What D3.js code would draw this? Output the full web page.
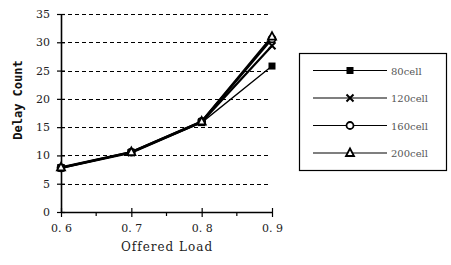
<!DOCTYPE html>
<html><head><meta charset="utf-8">
<script src="https://cdn.jsdelivr.net/npm/d3@7/dist/d3.min.js"></script>
<style>
body{margin:0;background:#fff}svg{display:block}
text.serif{font-family:"DejaVu Serif",serif !important}
text.mono{font-family:"DejaVu Sans Mono",monospace !important;font-weight:bold}
</style>
</head><body>
<svg id="c" width="451" height="265"></svg>
<script>
const loads = [0.6, 0.7, 0.8, 0.9];
const cell80 = [7.8, 10.5, 15.8, 25.8];
const cell120 = [7.8, 10.5, 15.9, 29.4];
const cell160 = [7.8, 10.6, 16.0, 30.6];
const cell200 = [7.9, 10.6, 16.0, 31.0];
const seriesNames = ["80cell", "120cell", "160cell", "200cell"];
const markers = ["square", "cross", "circle", "triangle"];
const yTicks = [0, 5, 10, 15, 20, 25, 30, 35];
const xTickLabels = ["0. 6", "0. 7", "0. 8", "0. 9"];

const series = [cell80, cell120, cell160, cell200].map((v, i) => ({name: seriesNames[i], marker: markers[i], values: v}));

const svg = d3.select("#c");
const x = d3.scaleLinear().domain([0.6, 0.9]).range([61, 272]);
const y = d3.scaleLinear().domain([0, 35]).range([212, 14]);

svg.append("g").selectAll("line").data(yTicks.filter(d => d > 0)).join("line")
  .attr("x1", x(0.6)).attr("x2", x(0.9) - 2)
  .attr("y1", d => Math.round(y(d)) + 0.5).attr("y2", d => Math.round(y(d)) + 0.5)
  .attr("stroke", "#000").attr("stroke-width", 1).attr("stroke-dasharray", "4,3");

const yAxis = d3.axisLeft(y).tickValues(yTicks).tickSize(4).tickFormat(d3.format("d")).tickPadding(5);
const gy = svg.append("g").attr("transform", `translate(${x(0.6)},0)`).call(yAxis);
gy.attr("font-family", null);
gy.select(".domain").attr("stroke-width", 1.6).attr("d", `M0.5,${y(35)}V${y(0)}`);
gy.selectAll(".tick line").attr("x1", -4).attr("x2", 4).attr("stroke-width", 1.2);
gy.selectAll(".tick text").attr("class", "serif").attr("font-size", 11).attr("fill", "#222").attr("dx", -2);

const xAxis = d3.axisBottom(x).tickValues(loads).tickSize(4).tickFormat((d, i) => xTickLabels[i]).tickPadding(8);
const gx = svg.append("g").attr("transform", `translate(0,${y(0)})`).call(xAxis);
gx.attr("font-family", null);
gx.select(".domain").attr("stroke-width", 1.6).attr("d", `M${x(0.6)},0.5H${x(0.9)}`);
gx.selectAll(".tick line").attr("y1", -4).attr("y2", 5).attr("stroke-width", 1.2);
gx.selectAll(".tick text").attr("class", "serif").attr("font-size", 11).attr("fill", "#222");
svg.append("g").selectAll("line").data([0.65, 0.75, 0.85]).join("line")
  .attr("x1", d => x(d)).attr("x2", d => x(d)).attr("y1", y(0)).attr("y2", y(0) + 4)
  .attr("stroke", "#000").attr("stroke-width", 1.2);

svg.append("text").attr("class", "serif").attr("x", 167).attr("y", 251).attr("text-anchor", "middle")
  .attr("font-size", 12).attr("letter-spacing", 1).attr("fill", "#222")
  .text("Offered Load");
svg.append("text").attr("class", "mono").attr("transform", "translate(22,100) rotate(-90)").attr("text-anchor", "middle")
  .attr("font-size", 12).attr("fill", "#111")
  .text("Delay Count");

const line = d3.line().x((d, i) => x(loads[i])).y(d => y(d));
const widths = [1.3, 2.2, 2.2, 2.2];
series.slice().reverse().forEach((s) => {
  const i = seriesNames.indexOf(s.name);
  svg.append("path").attr("d", line(s.values)).attr("fill", "none").attr("stroke", "#000").attr("stroke-width", widths[i]);
});

function drawMarker(g, type, cx, cy) {
  if (type === "square") {
    g.append("rect").attr("x", cx - 3.5).attr("y", cy - 3.5).attr("width", 7).attr("height", 7).attr("fill", "#000");
  } else if (type === "cross") {
    g.append("path").attr("d", `M${cx-3.5},${cy-3.5}L${cx+3.5},${cy+3.5}M${cx-3.5},${cy+3.5}L${cx+3.5},${cy-3.5}`).attr("stroke", "#000").attr("stroke-width", 2);
  } else if (type === "circle") {
    g.append("circle").attr("cx", cx).attr("cy", cy).attr("r", 3.5).attr("fill", "#fff").attr("stroke", "#000").attr("stroke-width", 1.8);
  } else {
    g.append("path").attr("d", `M${cx},${cy-4.5}L${cx+4},${cy+3}L${cx-4},${cy+3}Z`).attr("fill", "#fff").attr("stroke", "#000").attr("stroke-width", 1.8);
  }
}
const mg = svg.append("g");
series.forEach(s => {
  s.values.forEach((v, i) => drawMarker(mg, s.marker, x(loads[i]), y(v)));
});

const lg = svg.append("g");
lg.append("rect").attr("x", 299.5).attr("y", 53.5).attr("width", 147).attr("height", 117)
  .attr("fill", "#fff").attr("stroke", "#000").attr("stroke-width", 1.2);
series.forEach((s, i) => {
  const ly = 70.5 + i * 27.5;
  lg.append("line").attr("x1", 313).attr("x2", 387).attr("y1", ly).attr("y2", ly).attr("stroke", "#000").attr("stroke-width", 1.2);
  drawMarker(lg, s.marker, 350, ly);
  lg.append("text").attr("class", "serif").attr("x", 391).attr("y", ly + 4).attr("font-size", 10)
    .attr("fill", "#555").text(s.name);
});
</script>
</body></html>
